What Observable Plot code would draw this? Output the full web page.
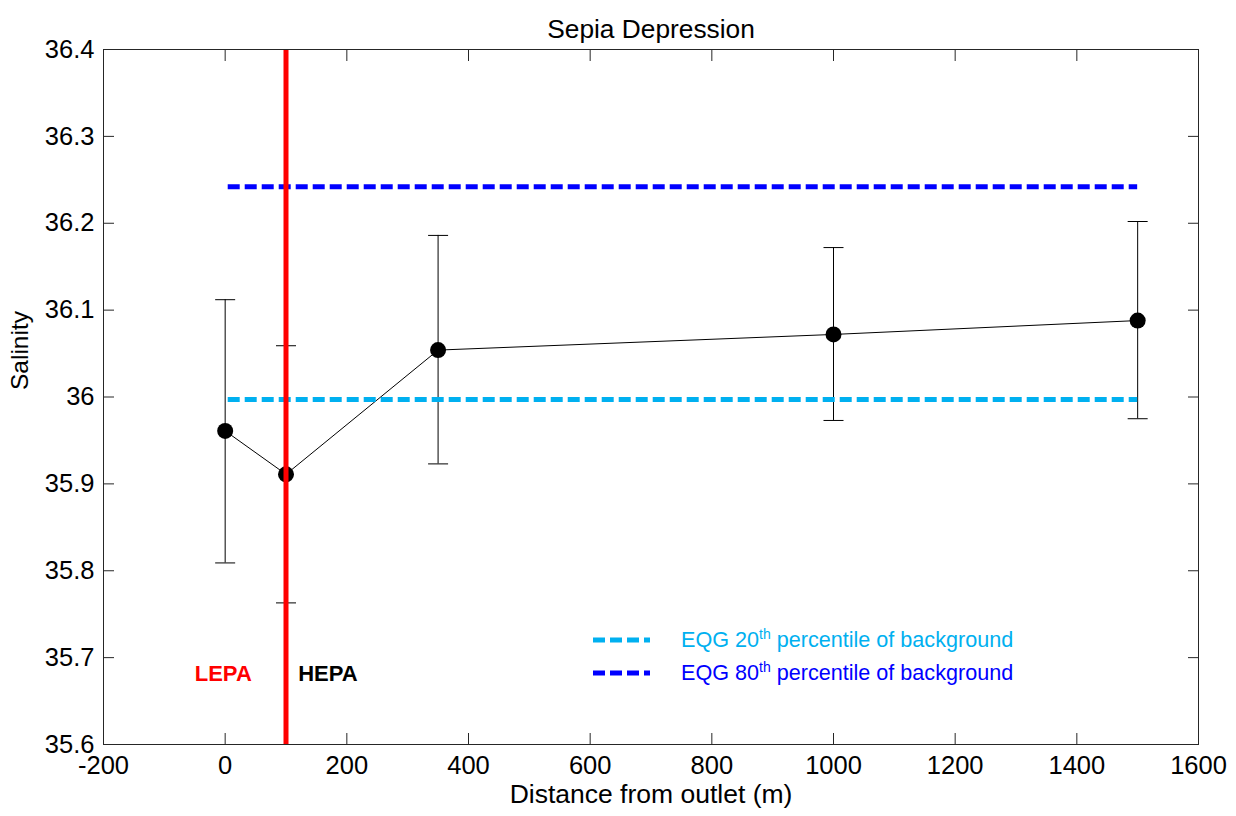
<!DOCTYPE html>
<html>
<head>
<meta charset="utf-8">
<script src="https://cdn.jsdelivr.net/npm/d3@7"></script>
<script src="https://cdn.jsdelivr.net/npm/@observablehq/plot@0.6"></script>
<style>
  body { margin: 0; background: #fff; }
  #chart { position: relative; width: 1236px; height: 816px; font-family: "Liberation Sans", Arial, sans-serif; }
  #chart svg { display: block; }
  .legend-row { position: absolute; left: 593px; height: 30px; display: flex; align-items: center; white-space: nowrap; }
  .legend-row svg { margin-right: 31px; }
  .legend-row span { font-size: 21.6px; }
  .legend-row sup { font-size: 14px; vertical-align: 8px; line-height: 0; }
</style>
</head>
<body>
<div id="chart"></div>
<script>
// Sampling stations: distance from the outlet (m) and measured salinity
const distance = [0, 100, 350, 1000, 1500];
const salinity = [35.961, 35.911, 36.054, 36.072, 36.088];
const salinityUpper = [36.112, 36.059, 36.186, 36.172, 36.202];
const salinityLower = [35.809, 35.763, 35.923, 35.973, 35.975];

// Environmental quality guideline levels (background percentiles)
const eqg20 = 35.997;
const eqg80 = 36.242;
const eqgFrom = 5;
const eqgTo = 1500;

// Boundary between the low and high exposure protection areas
const zoneBoundary = 100;
const zoneLabels = ["LEPA", "HEPA"];
const zoneLabelX = [-50, 120];
const zoneLabelY = 35.681;

// Axis ticks
const xTicks = [-200, 0, 200, 400, 600, 800, 1000, 1200, 1400, 1600];
const yTicks = [35.6, 35.7, 35.8, 35.9, 36.0, 36.1, 36.2, 36.3, 36.4];

const titleText = "Sepia Depression";
const xLabel = "Distance from outlet (m)";
const yLabel = "Salinity";

const cyan = "#00b0f0";
const blue = "#0000ff";
const axisColor = "#262626";
const font = "'Liberation Sans', Arial, sans-serif";

const rows = distance.map((d, i) => ({
  distance: d, salinity: salinity[i], lower: salinityLower[i], upper: salinityUpper[i]
}));
const zones = zoneLabels.map((label, i) => ({
  label, x: zoneLabelX[i], y: zoneLabelY, color: i === 0 ? "#ff0000" : "#000000"
}));

// Horizontal cap for the error bars
const cap = { draw(ctx) { ctx.moveTo(-10, 0); ctx.lineTo(10, 0); } };
const fmt = d => String(+d.toFixed(1));

const chart = Plot.plot({
  width: 1236,
  height: 816,
  marginLeft: 103,
  marginRight: 38,
  marginTop: 49,
  marginBottom: 72,
  style: { fontFamily: font, fontSize: "25px", color: "#000", background: "#fff", overflow: "visible" },
  x: { domain: [-200, 1600] },
  y: { domain: [35.6, 36.4] },
  marks: [
    // error bars
    Plot.ruleX(rows, { x: "distance", y1: "lower", y2: "upper", stroke: "#000", strokeWidth: 1 }),
    Plot.dot(rows, { x: "distance", y: "upper", symbol: cap, fill: "none", stroke: "#000", strokeWidth: 1 }),
    Plot.dot(rows, { x: "distance", y: "lower", symbol: cap, fill: "none", stroke: "#000", strokeWidth: 1 }),
    // mean salinity
    Plot.line(rows, { x: "distance", y: "salinity", stroke: "#000", strokeWidth: 1 }),
    Plot.dot(rows, { x: "distance", y: "salinity", r: 8, fill: "#000", stroke: null }),
    // guideline levels
    Plot.ruleY([eqg20], { x1: eqgFrom, x2: eqgTo, stroke: cyan, strokeWidth: 5, strokeDasharray: "12,5" }),
    Plot.ruleY([eqg80], { x1: eqgFrom, x2: eqgTo, stroke: blue, strokeWidth: 5, strokeDasharray: "12,5" }),
    // zone boundary
    Plot.ruleX([zoneBoundary], { stroke: "#ff0000", strokeWidth: 5 }),
    Plot.text(zones, { x: "x", y: "y", text: "label", fill: "color", textAnchor: "start", fontWeight: "bold", fontSize: 22, fontFamily: font }),
    // box and inward ticks on all sides
    Plot.frame({ stroke: axisColor, strokeWidth: 1 }),
    Plot.axisX(xTicks, { anchor: "bottom", tickSize: -11, fill: "none", stroke: axisColor, label: null }),
    Plot.axisX(xTicks, { anchor: "top", tickSize: -11, fill: "none", stroke: axisColor, label: null }),
    Plot.axisY(yTicks, { anchor: "left", tickSize: -11, fill: "none", stroke: axisColor, label: null }),
    Plot.axisY(yTicks, { anchor: "right", tickSize: -11, fill: "none", stroke: axisColor, label: null }),
    Plot.axisX(xTicks, { anchor: "bottom", tickSize: 0, tickPadding: 11, tickFormat: d => String(d), fontSize: 25.5, fill: "#000", label: null }),
    Plot.axisY(yTicks, { anchor: "left", tickSize: 0, tickPadding: 9, tickFormat: fmt, fontSize: 25.5, fill: "#000", label: null }),
    // title and axis labels
    Plot.text([titleText], { frameAnchor: "top", dy: -30, fontSize: 26.3, fill: "#000" }),
    Plot.text([xLabel], { frameAnchor: "bottom", dy: 58, fontSize: 26.5, fill: "#000" }),
    Plot.text([yLabel], { frameAnchor: "left", dx: -83, dy: -7, rotate: -90, fontSize: 24.5, fill: "#000" })
  ]
});

const root = document.getElementById("chart");
root.appendChild(chart);

// Legend for the guideline levels
const legendItems = [
  { pct: "20", color: cyan, centerY: 640 },
  { pct: "80", color: blue, centerY: 673 }
];
for (const item of legendItems) {
  const row = document.createElement("div");
  row.className = "legend-row";
  row.style.top = (item.centerY - 15) + "px";
  row.innerHTML =
    `<svg width="57" height="10"><line x1="0" x2="57" y1="5" y2="5" stroke="${item.color}" stroke-width="5" stroke-dasharray="12,5"/></svg>` +
    `<span style="color:${item.color}">EQG ${item.pct}<sup>th</sup> percentile of background</span>`;
  root.appendChild(row);
}
</script>
</body>
</html>
